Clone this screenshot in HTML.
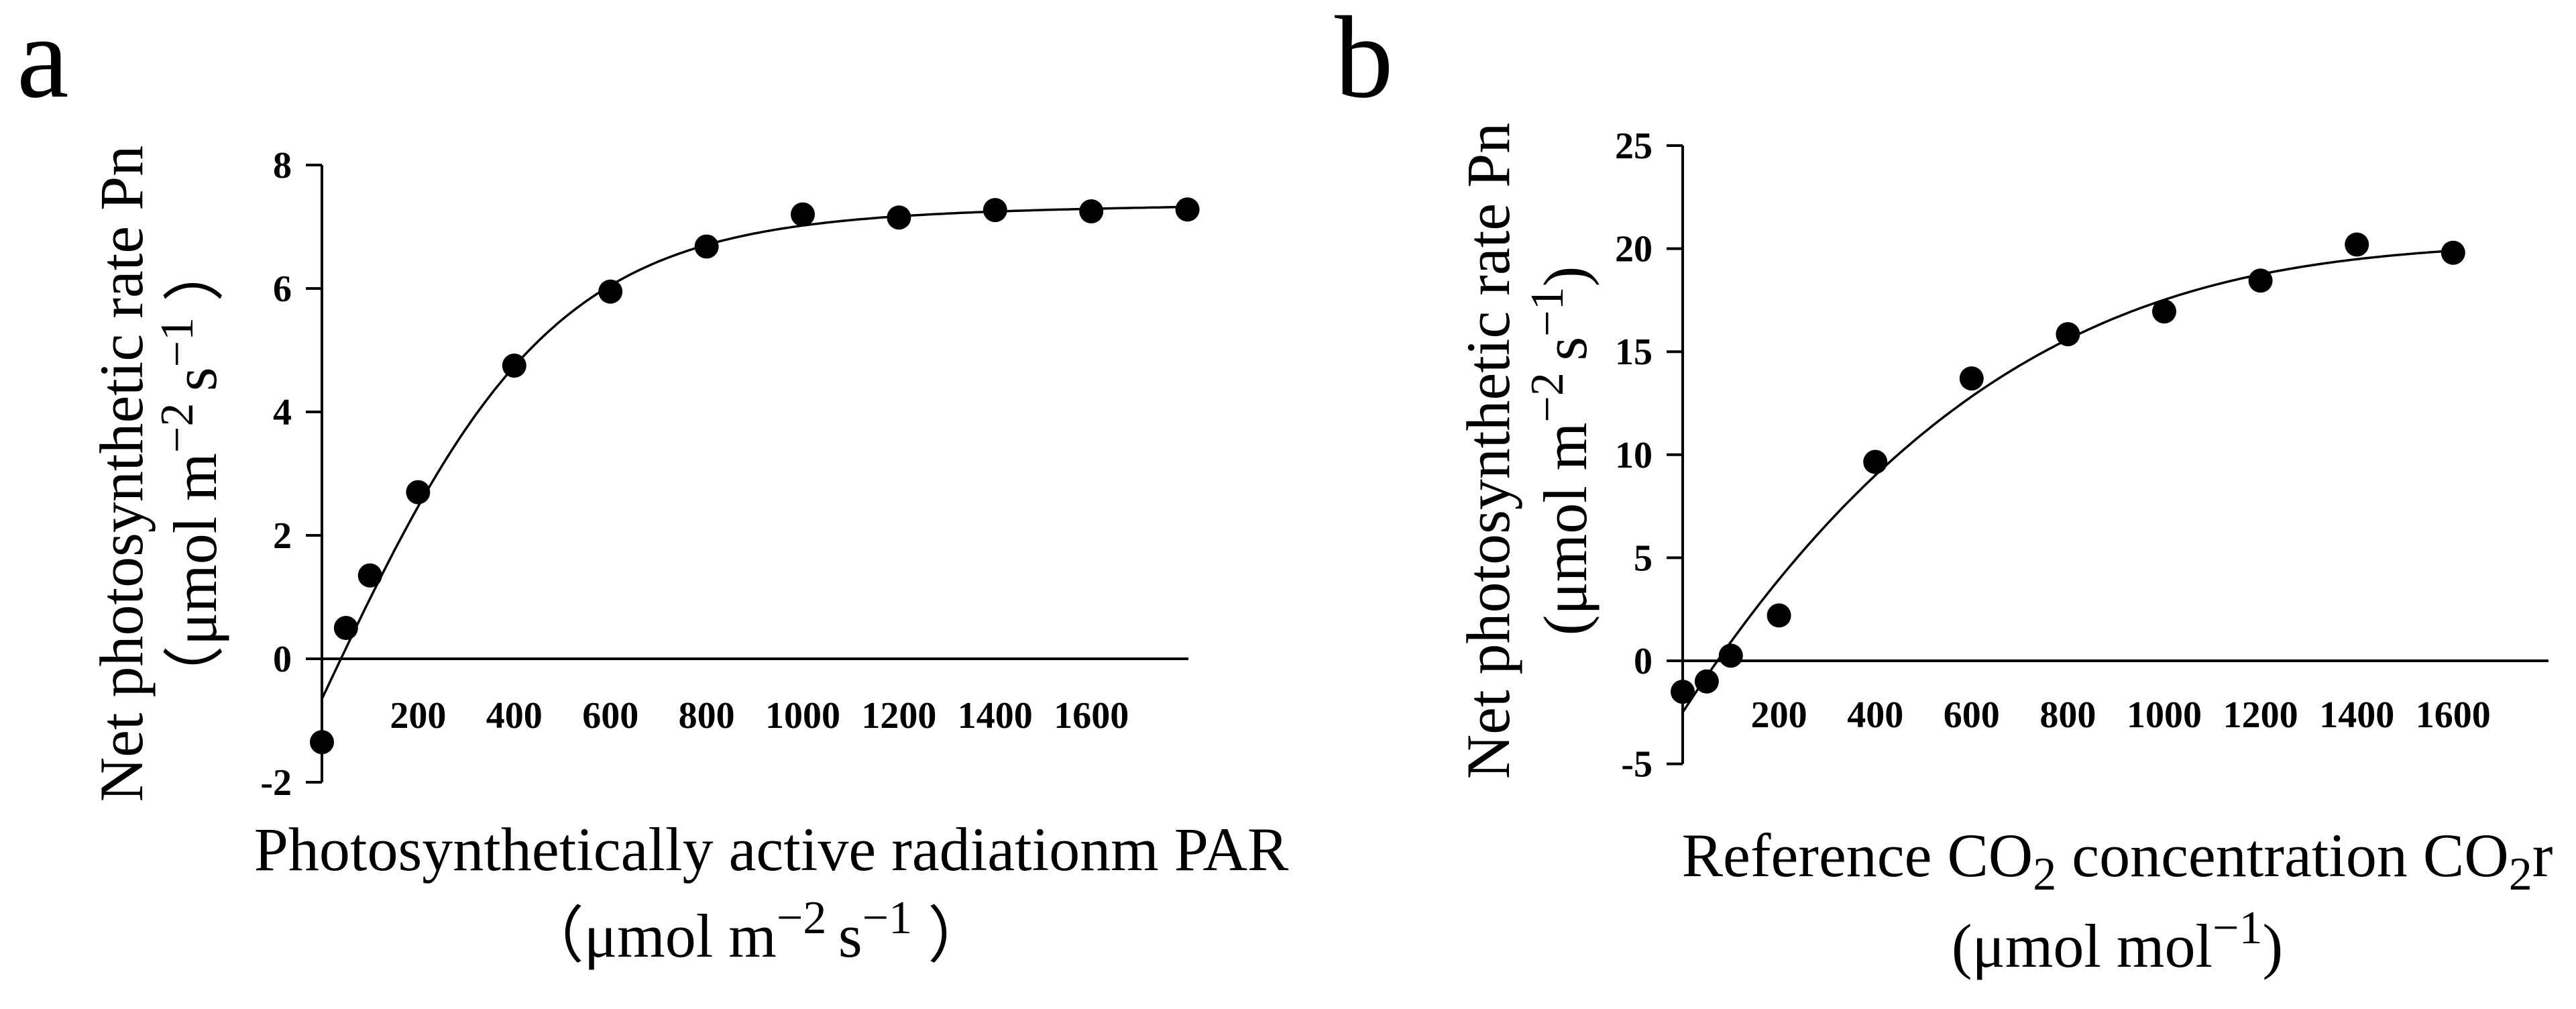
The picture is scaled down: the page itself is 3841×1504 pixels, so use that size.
<!DOCTYPE html>
<html><head><meta charset="utf-8"><style>
body{margin:0;background:#fff;}
svg{display:block;font-family:"Liberation Serif",serif;}
</style></head><body>
<svg id="fig" width="3841" height="1504" viewBox="0 0 3841 1504">
<text x="25" y="144" font-size="175">a</text>
<text x="1990" y="144" font-size="175">b</text>
<g id="pa"></g>
<g id="pb"></g>
<text transform="translate(212,706) rotate(-90)" text-anchor="middle" font-size="92">Net photosynthetic rate Pn</text>
<text transform="translate(322,706) rotate(-90)" text-anchor="middle" font-size="92">（μmol m<tspan dy="-35" font-size="70">−2 </tspan><tspan dy="35">s</tspan><tspan dy="-35" font-size="70">−1</tspan><tspan dy="35"> ）</tspan></text>
<text x="1150" y="1297" text-anchor="middle" font-size="92">Photosynthetically active radiationm PAR</text>
<text x="1127" y="1426" text-anchor="middle" font-size="92">（μmol m<tspan dy="-35" font-size="70">−2 </tspan><tspan dy="35">s</tspan><tspan dy="-35" font-size="70">−1</tspan><tspan dy="35"> ）</tspan></text>
<text transform="translate(2250,672) rotate(-90)" text-anchor="middle" font-size="92">Net photosynthetic rate Pn</text>
<text transform="translate(2365,672) rotate(-90)" text-anchor="middle" font-size="92">(μmol m<tspan dy="-35" font-size="70">−2 </tspan><tspan dy="35">s</tspan><tspan dy="-35" font-size="70">−1</tspan><tspan dy="35">)</tspan></text>
<text x="3157" y="1306" text-anchor="middle" font-size="92">Reference CO<tspan dy="20" font-size="70">2</tspan><tspan dy="-20"> concentration CO</tspan><tspan dy="20" font-size="70">2</tspan><tspan dy="-20">r</tspan></text>
<text x="3157" y="1441" text-anchor="middle" font-size="92">(μmol mol<tspan dy="-35" font-size="70">−1</tspan><tspan dy="35">)</tspan></text>
</svg>
<script>
const aX=[0,50,100,200,400,600,800,1000,1200,1400,1600,1800];
const aY=[-1.35,0.5,1.35,2.7,4.75,5.95,6.68,7.2,7.15,7.27,7.25,7.28];
const aYTicks=[-2,0,2,4,6,8];
const aXTicks=[200,400,600,800,1000,1200,1400,1600];
const aFit={amp:7.8,k:0.0021,rd:0.65,slope:0.0001};
const bX=[0,50,100,200,400,600,800,1000,1200,1400,1600];
const bY=[-1.5,-1.0,0.25,2.2,9.65,13.7,15.85,16.95,18.45,20.2,19.8];
const bYTicks=[-5,0,5,10,15,20,25];
const bXTicks=[200,400,600,800,1000,1200,1400,1600];
const bFit=[-2.5,0.03608,-1.984e-5,3.776e-9];
const NS="http://www.w3.org/2000/svg";
function mk(p,t,a){const e=document.createElementNS(NS,t);for(const k in a)e.setAttribute(k,a[k]);p.appendChild(e);return e;}
function fa(I){const f=aFit;return -f.rd+f.amp*Math.tanh(f.k*I)+f.slope*I;}
function fb(x){return bFit[0]+bFit[1]*x+bFit[2]*x*x+bFit[3]*x*x*x;}
function draw(g,o){
  const sx=v=>o.x0+v*o.kx, sy=v=>o.y0-v*o.ky;
  let e=mk(g,'line',{x1:o.x0,x2:o.x0,y1:sy(o.ymin),y2:sy(o.ymax),stroke:'#000','stroke-width':4});
  
  e=mk(g,'line',{x1:o.x0,x2:o.xend,y1:sy(0),y2:sy(0),stroke:'#000','stroke-width':4});
  
  o.yt.forEach(v=>{
    e=mk(g,'line',{x1:o.x0-24,x2:o.x0,y1:sy(v),y2:sy(v),stroke:'#000','stroke-width':4});
    
    e=mk(g,'text',{x:o.x0-45,y:sy(v)+19,'text-anchor':'end','font-size':56,'font-weight':'bold'});e.textContent=v;
    
  });
  o.xt.forEach(v=>{
    e=mk(g,'text',{x:sx(v),y:o.xly,'text-anchor':'middle','font-size':56,'font-weight':'bold'});e.textContent=v;
    
  });
  let d='';for(let x=0;x<=o.fmax;x+=10){d+=(x?'L':'M')+sx(x).toFixed(1)+','+sy(o.f(x)).toFixed(1);}
  e=mk(g,'path',{d:d,fill:'none',stroke:'#000','stroke-width':3.5});
  
  o.xs.forEach((x,i)=>{
    e=mk(g,'circle',{cx:sx(x),cy:sy(o.ys[i]),r:18,fill:'#000'});
    
  });
}
draw(document.getElementById('pa'),{x0:480,kx:143.4/200,y0:982,ky:92,ymin:-2,ymax:8,xend:1772,yt:aYTicks,xt:aXTicks,xly:1085,xs:aX,ys:aY,f:fa,fmax:1800});
draw(document.getElementById('pb'),{x0:2509,kx:143.6/200,y0:985,ky:153.6/5,ymin:-5,ymax:25,xend:3800,yt:bYTicks,xt:bXTicks,xly:1084,xs:bX,ys:bY,f:fb,fmax:1600});
</script>
</body></html>
